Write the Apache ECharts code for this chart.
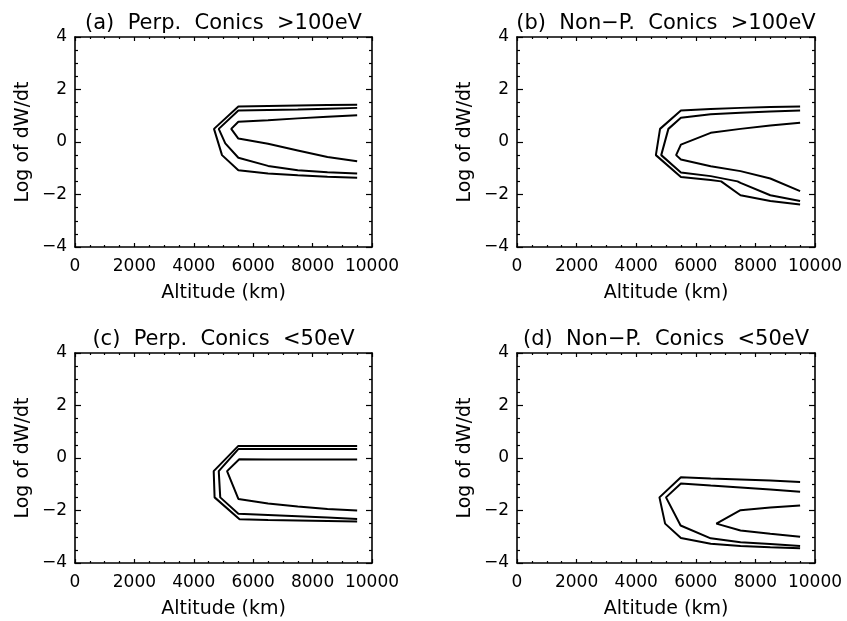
<!DOCTYPE html>
<html>
<head>
<meta charset="utf-8">
<script src="https://cdn.jsdelivr.net/npm/echarts@6/dist/echarts.min.js"></script>
<style>
html,body{margin:0;padding:0;background:#fff;}
#chart{width:847px;height:621px;}
</style>
</head>
<body>
<div id="chart"></div>
<script>
// ---- Data (Altitude km, Log of dW/dt) ----
const panelTitles = [
  '(a)  Perp.  Conics  >100eV',
  '(b)  Non\u2212P.  Conics  >100eV',
  '(c)  Perp.  Conics  <50eV',
  '(d)  Non\u2212P.  Conics  <50eV'
];
const xAxisName = 'Altitude (km)';
const yAxisName = 'Log of dW/dt';
const xRange = [0, 10000];
const xStep = 2000;
const yRange = [-4, 4];
const yStep = 2;

// Panel (a)
const a1 = [[9500,1.42],[8500,1.41],[7500,1.39],[6500,1.37],[5500,1.35],[4680,0.5],[4950,-0.5],[5500,-1.08],[6500,-1.20],[7500,-1.27],[8500,-1.32],[9500,-1.36]];
const a2 = [[9500,1.30],[8500,1.27],[7500,1.24],[6500,1.22],[5500,1.20],[4840,0.5],[5060,-0.05],[5500,-0.6],[6500,-0.91],[7500,-1.08],[8500,-1.15],[9500,-1.20]];
const a3 = [[9500,1.02],[8500,0.96],[7500,0.90],[6500,0.83],[5500,0.77],[5260,0.5],[5500,0.13],[6500,-0.07],[7500,-0.32],[8500,-0.57],[9500,-0.73]];
// Panel (b)
const b1 = [[9500,1.35],[8500,1.33],[7500,1.30],[6500,1.26],[5500,1.20],[4800,0.5],[4660,-0.5],[5500,-1.33],[6500,-1.45],[6850,-1.5],[7500,-2.03],[8500,-2.25],[9500,-2.38]];
const b2 = [[9500,1.20],[8500,1.16],[7500,1.11],[6500,1.06],[5500,0.92],[5080,0.5],[4840,-0.5],[5500,-1.16],[6500,-1.30],[7400,-1.5],[7500,-1.56],[8500,-2.03],[9500,-2.25]];
const b3 = [[9500,0.73],[8500,0.63],[7500,0.50],[6500,0.35],[5500,-0.1],[5340,-0.5],[5500,-0.67],[6500,-0.92],[7500,-1.11],[8500,-1.39],[9500,-1.87]];
// Panel (c)
const c1 = [[9500,0.46],[8500,0.46],[7500,0.46],[6500,0.46],[5500,0.46],[4670,-0.5],[4700,-1.5],[5540,-2.33],[6500,-2.36],[7500,-2.38],[8500,-2.40],[9500,-2.42]];
const c2 = [[9500,0.34],[8500,0.34],[7500,0.34],[6500,0.34],[5500,0.34],[4840,-0.5],[4890,-1.5],[5500,-2.12],[6500,-2.17],[7500,-2.22],[8500,-2.27],[9500,-2.32]];
const c3 = [[9500,-0.06],[8500,-0.06],[7500,-0.06],[6500,-0.06],[5530,-0.05],[5120,-0.5],[5500,-1.56],[6500,-1.73],[7500,-1.85],[8500,-1.94],[9500,-2.0]];
// Panel (d)
const d1 = [[9500,-0.91],[8500,-0.86],[7500,-0.82],[6500,-0.78],[5500,-0.73],[4780,-1.5],[4970,-2.5],[5500,-3.05],[6500,-3.27],[7500,-3.35],[8500,-3.40],[9500,-3.44]];
const d2 = [[9500,-1.29],[8500,-1.20],[7500,-1.12],[6500,-1.05],[5500,-0.97],[5000,-1.5],[5490,-2.57],[6500,-3.06],[7500,-3.21],[8500,-3.28],[9500,-3.35]];
const d3 = [[9500,-1.81],[8500,-1.89],[7500,-1.99],[6690,-2.5],[7500,-2.76],[8500,-2.89],[9500,-3.0]];

const panelLines = [[a1,a2,a3],[b1,b2,b3],[c1,c2,c3],[d1,d2,d3]];

// ---- Layout ----
const grids = [
  {left:75, top:37, width:297, height:210},
  {left:517, top:37, width:298, height:210},
  {left:75, top:353, width:297, height:210},
  {left:517, top:353, width:298, height:210}
];
const FONT = 'DejaVu Sans';
const axisLineStyle = {color:'#000', width:1.6};

function fmtY(v){ return v < 0 ? '\u2212' + Math.abs(v) : String(v); }
function fmtX(v){ return String(v); }

const option = {
  backgroundColor:'#fff',
  animation:false,
  title: grids.map((g,i)=>({
    text: panelTitles[i],
    left: g.left + g.width/2,
    top: g.top - 24,
    textAlign:'center',
    padding:0,
    textStyle:{fontFamily:FONT, fontSize:21, fontWeight:'normal', color:'#000'}
  })),
  grid: grids.map(g=>Object.assign({containLabel:false}, g)),
  xAxis: [],
  yAxis: [],
  series: []
};

grids.forEach((g,i)=>{
  option.xAxis.push({
    type:'value', gridIndex:i, min:xRange[0], max:xRange[1], interval:xStep,
    position:'bottom',
    name:xAxisName, nameLocation:'middle', nameGap:37,
    nameTextStyle:{fontFamily:FONT, fontSize:19, color:'#000'},
    axisLine:{show:true, lineStyle:axisLineStyle, onZero:false},
    axisTick:{show:true, inside:true, length:4, lineStyle:{color:'#000', width:1.2}},
    minorTick:{show:true, splitNumber:4, length:2, lineStyle:{color:'#000', width:1.2}},
    axisLabel:{show:true, margin:11, fontFamily:FONT, fontSize:17, color:'#000', formatter:fmtX, showMinLabel:true, showMaxLabel:true},
    splitLine:{show:false}
  });
  option.xAxis.push({
    type:'value', gridIndex:i, min:xRange[0], max:xRange[1], interval:xStep,
    position:'top',
    axisLine:{show:true, lineStyle:axisLineStyle, onZero:false},
    axisTick:{show:true, inside:true, length:4, lineStyle:{color:'#000', width:1.2}},
    minorTick:{show:true, splitNumber:4, length:2, lineStyle:{color:'#000', width:1.2}},
    axisLabel:{show:false},
    splitLine:{show:false}
  });
  option.yAxis.push({
    type:'value', gridIndex:i, min:yRange[0], max:yRange[1], interval:yStep,
    position:'left',
    name:yAxisName, nameLocation:'middle', nameGap:42, nameRotate:90,
    nameTextStyle:{fontFamily:FONT, fontSize:19, color:'#000'},
    axisLine:{show:true, lineStyle:axisLineStyle, onZero:false},
    axisTick:{show:true, inside:true, length:6, lineStyle:{color:'#000', width:1.2}},
    minorTick:{show:true, splitNumber:4, length:3, lineStyle:{color:'#000', width:1.2}},
    axisLabel:{show:true, margin:8, fontFamily:FONT, fontSize:17, color:'#000', formatter:fmtY, showMinLabel:true, showMaxLabel:true},
    splitLine:{show:false}
  });
  option.yAxis.push({
    type:'value', gridIndex:i, min:yRange[0], max:yRange[1], interval:yStep,
    position:'right',
    axisLine:{show:true, lineStyle:axisLineStyle, onZero:false},
    axisTick:{show:true, inside:true, length:6, lineStyle:{color:'#000', width:1.2}},
    minorTick:{show:true, splitNumber:4, length:3, lineStyle:{color:'#000', width:1.2}},
    axisLabel:{show:false},
    splitLine:{show:false}
  });
  panelLines[i].forEach((line,k)=>{
    option.series.push({
      type:'line', name:'panel'+i+'_contour'+k,
      xAxisIndex:2*i, yAxisIndex:2*i,
      data: line,
      showSymbol:false, symbol:'none', smooth:false,
      lineStyle:{color:'#000', width:2},
      silent:true
    });
  });
});

const chart = echarts.init(document.getElementById('chart'), null, {renderer:'canvas'});
chart.setOption(option);
</script>
</body>
</html>
